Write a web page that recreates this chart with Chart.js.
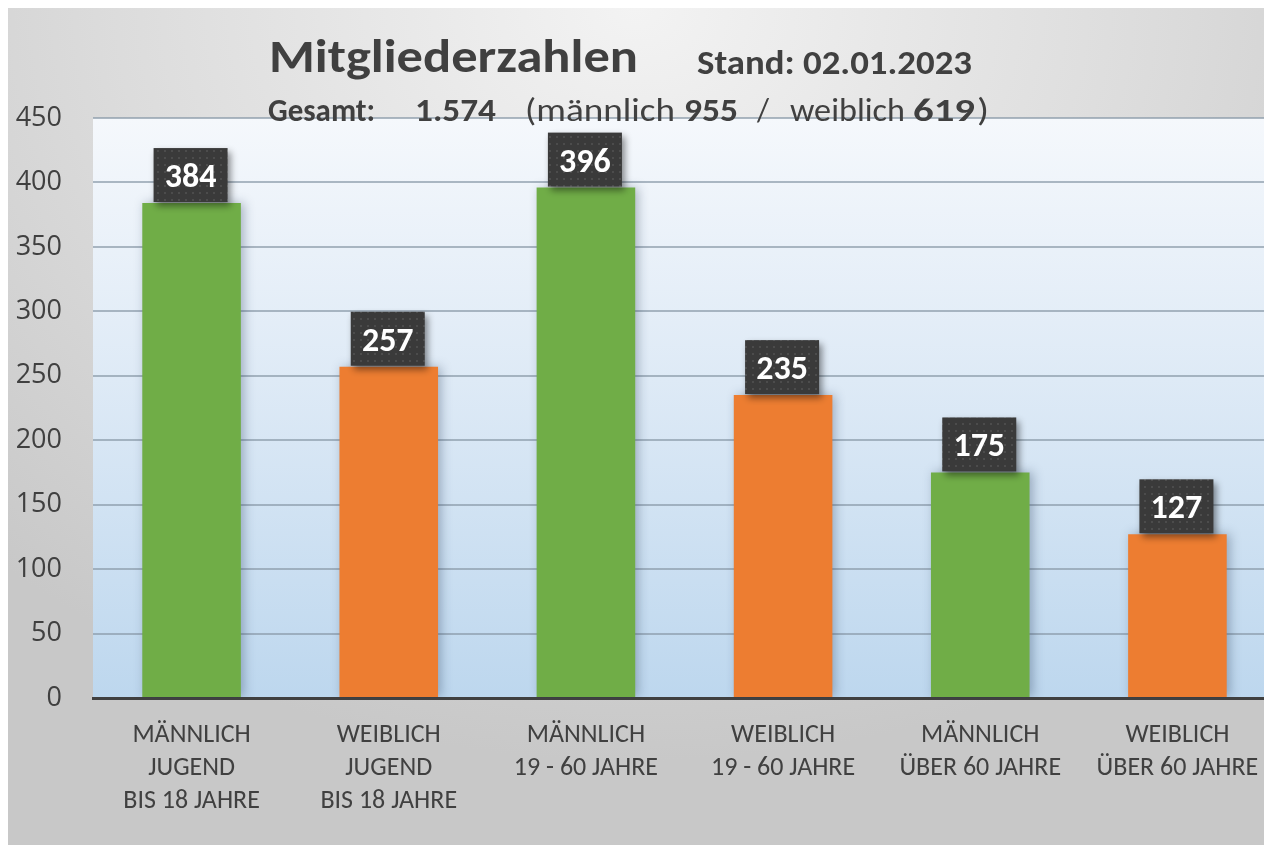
<!DOCTYPE html>
<html>
<head>
<meta charset="utf-8">
<script src="https://cdn.jsdelivr.net/npm/chart.js@4/dist/chart.umd.min.js"></script>
<style>
  html, body { margin:0; padding:0; background:#ffffff; overflow:hidden; width:1264px; height:845px; }
  #bg { position:absolute; left:8px; top:8px; width:1256px; height:837px;
        background: radial-gradient(ellipse 75% 90% at 50% 0%, #f3f3f3 0%, #dcdcdc 55%, #c8c8c8 100%); }
  #wrap { position:absolute; left:0; top:0; width:1276px; height:845px; }
</style>
</head>
<body>
<div id="bg"></div>
<div id="wrap"><canvas id="c" width="1276" height="845"></canvas></div>
<script>
const categories = [
  ["MÄNNLICH", "JUGEND", "BIS 18 JAHRE"],
  ["WEIBLICH", "JUGEND", "BIS 18 JAHRE"],
  ["MÄNNLICH", "19 - 60 JAHRE"],
  ["WEIBLICH", "19 - 60 JAHRE"],
  ["MÄNNLICH", "ÜBER 60 JAHRE"],
  ["WEIBLICH", "ÜBER 60 JAHRE"]
];
const members = [384, 257, 396, 235, 175, 127];
const barColors = ["#70ad47", "#ed7d31", "#70ad47", "#ed7d31", "#70ad47", "#ed7d31"];
const titleText = "Mitgliederzahlen";
const standText = "Stand: 02.01.2023";
const summaryParts = [
  ["Gesamt:", true],
  ["1.574", true],
  ["(männlich", false],
  ["955", true],
  ["/", false],
  ["weiblich", false],
  ["619", true],
  [")", false]
];
const yMax = 450;
const yStep = 50;

const FONT = "Carlito, Lato, 'Open Sans', sans-serif";
const FONT2 = "'Open Sans', Carlito, Lato, sans-serif";

// dotted pattern for label boxes
const pc = document.createElement('canvas');
pc.width = 7; pc.height = 7;
const pctx = pc.getContext('2d');
pctx.fillStyle = '#3a3a3a'; pctx.fillRect(0,0,7,7);
pctx.fillStyle = '#4c4c4c'; pctx.fillRect(3,3,2,2);

function fitText(ctx, text, x, y, targetW) {
  const w = ctx.measureText(text).width;
  ctx.save();
  ctx.translate(x, y);
  ctx.scale(targetW / w, 1);
  ctx.fillText(text, 0, 0);
  ctx.restore();
}

const plotBg = {
  id: 'plotBg',
  beforeDraw(chart) {
    const {ctx, chartArea:a} = chart;
    ctx.save();
    const g = ctx.createLinearGradient(0, a.top, 0, a.bottom);
    g.addColorStop(0, '#f5f8fc');
    g.addColorStop(0.45, '#deeaf6');
    g.addColorStop(1, '#bdd7ee');
    ctx.fillStyle = g;
    ctx.fillRect(a.left, a.top, a.right - a.left, a.bottom - a.top);
    ctx.restore();
  }
};

const barShadow = {
  id: 'barShadow',
  beforeDatasetDraw(chart) {
    const ctx = chart.ctx;
    ctx.save();
    ctx.shadowColor = 'rgba(40,60,90,0.35)';
    ctx.shadowBlur = 10;
    ctx.shadowOffsetX = 3;
    ctx.shadowOffsetY = 0;
  },
  afterDatasetDraw(chart) { chart.ctx.restore(); }
};

const valueBoxes = {
  id: 'valueBoxes',
  afterDatasetsDraw(chart) {
    const {ctx} = chart;
    const meta = chart.getDatasetMeta(0);
    const pat = ctx.createPattern(pc, 'repeat');
    meta.data.forEach((bar, i) => {
      const w = 74, h = 54;
      const x = bar.x - w/2 - 1, y = bar.y - h - 1;
      ctx.save();
      ctx.shadowColor = 'rgba(0,0,0,0.45)';
      ctx.shadowBlur = 7;
      ctx.shadowOffsetX = 3;
      ctx.shadowOffsetY = 4;
      ctx.fillStyle = pat;
      ctx.fillRect(x, y, w, h);
      ctx.restore();
      ctx.save();
      ctx.fillStyle = '#ffffff';
      ctx.font = "bold 34px " + FONT;
      ctx.textAlign = 'center';
      ctx.textBaseline = 'alphabetic';
      ctx.fillText(String(members[i]), bar.x - 1, y + 39);
      ctx.restore();
    });
  }
};

const titles = {
  id: 'titles',
  afterDraw(chart) {
    const {ctx} = chart;
    ctx.save();
    ctx.fillStyle = '#404040';
    ctx.textBaseline = 'alphabetic';
    ctx.textAlign = 'left';
    ctx.font = "bold 46px " + FONT;
    fitText(ctx, titleText, 269, 72, 369);
    ctx.font = "bold 35px " + FONT;
    fitText(ctx, standText, 697, 74, 275);
    const xs = [268, 415, 525, 684, 757, 790, 913, 977];
    const ws = [107, 81, 150, 54, 12, 115, 62, 12];
    summaryParts.forEach((p, i) => {
      ctx.font = (p[1] ? "bold " : "") + "33px " + FONT;
      fitText(ctx, p[0], xs[i], 121, ws[i]);
    });
    ctx.restore();
  }
};

new Chart(document.getElementById('c'), {
  type: 'bar',
  data: {
    labels: categories,
    datasets: [{
      data: members,
      backgroundColor: barColors,
      borderWidth: 0,
      barPercentage: 0.5,
      categoryPercentage: 1.0
    }]
  },
  options: {
    responsive: false,
    animation: false,
    devicePixelRatio: 1,
    layout: { padding: { top: 118, left: 0, right: 0, bottom: 0 } },
    plugins: { legend: { display: false }, tooltip: { enabled: false } },
    scales: {
      x: {
        grid: { display: false },
        border: { display: true, color: '#404040', width: 3 },
        ticks: {
          color: '#404040',
          font: { family: FONT, size: 26, lineHeight: 1.27 },
          padding: 13,
          maxRotation: 0, autoSkip: false
        },
        afterFit(s) { s.height = 845 - 698; s.paddingLeft = 0; s.paddingRight = 0; }
      },
      y: {
        min: 0, max: yMax,
        grid: { color: 'rgba(140,155,170,0.7)', lineWidth: 2, drawTicks: false },
        border: { display: false },
        ticks: {
          stepSize: yStep,
          color: '#404040',
          font: { family: FONT2, size: 27 },
          padding: 31
        },
        afterFit(s) { s.width = 93; }
      }
    }
  },
  plugins: [plotBg, barShadow, valueBoxes, titles]
});
</script>
</body>
</html>
